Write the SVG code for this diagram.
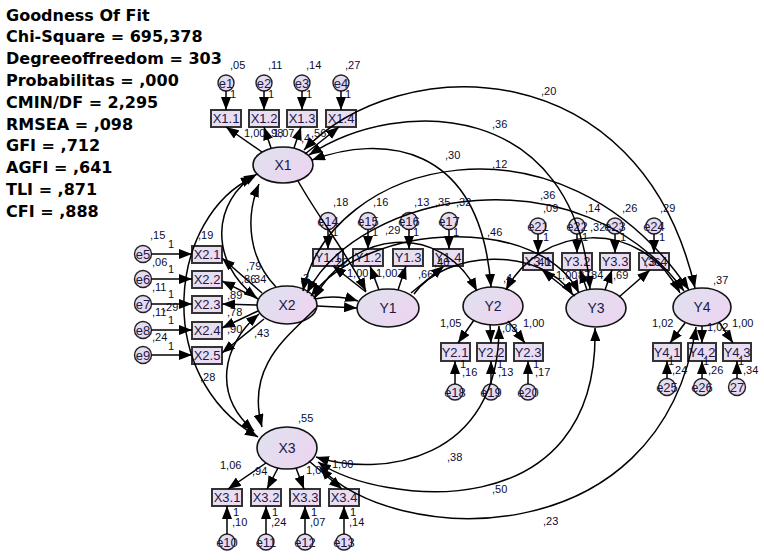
<svg xmlns="http://www.w3.org/2000/svg" width="764" height="560" viewBox="0 0 764 560">
<defs>
<linearGradient id="gl" x1="0" y1="0" x2="1" y2="0.6"><stop offset="0" stop-color="#dfe2ee"/><stop offset="1" stop-color="#ecd5f1"/></linearGradient>
<linearGradient id="gb" x1="0" y1="0" x2="1" y2="1"><stop offset="0" stop-color="#e4e2f0"/><stop offset="1" stop-color="#efd9f3"/></linearGradient>
<marker id="ah" markerUnits="userSpaceOnUse" markerWidth="13" markerHeight="10" refX="13" refY="5" orient="auto-start-reverse"><path d="M0,0 L13,5 L0,10 z" fill="#000"/></marker>
<style>
.lat{fill:url(#gl);stroke:#111;stroke-width:1.6}
.obs{fill:url(#gb);stroke:#333;stroke-width:2}
.err{fill:url(#gl);stroke:#222;stroke-width:1.4}
.ln{font-family:"Liberation Sans",Arial,sans-serif;font-size:14px;fill:#1a1a48;text-anchor:middle}
.bn{font-family:"Liberation Sans",Arial,sans-serif;font-size:13px;fill:#1a1a48;text-anchor:middle}
.en{font-family:"Liberation Sans",Arial,sans-serif;font-size:13px;fill:#1a1a48;text-anchor:middle}
.v{font-family:"Liberation Sans",Arial,sans-serif;font-size:11px;fill:#0b0b30}
.fit{font-family:"DejaVu Sans",sans-serif;font-size:16px;font-weight:bold;fill:#000}
#connectors path{fill:none;stroke:#000;stroke-width:1.5}
.a{marker-end:url(#ah)}
.b{marker-start:url(#ah);marker-end:url(#ah)}
</style>
</defs>
<rect width="764" height="560" fill="#fff"/>

<g id="fit">
<text class="fit" x="6" y="20.5">Goodness Of Fit</text>
<text class="fit" x="6" y="42.3">Chi-Square = 695,378</text>
<text class="fit" x="6" y="64.1">Degreeoffreedom = 303</text>
<text class="fit" x="6" y="85.9">Probabilitas = ,000</text>
<text class="fit" x="6" y="107.7">CMIN/DF = 2,295</text>
<text class="fit" x="6" y="129.5">RMSEA = ,098</text>
<text class="fit" x="6" y="151.3">GFI = ,712</text>
<text class="fit" x="6" y="173.1">AGFI = ,641</text>
<text class="fit" x="6" y="194.9">TLI = ,871</text>
<text class="fit" x="6" y="216.7">CFI = ,888</text>
</g>

<!-- latent variables -->
<g id="X1"><ellipse class="lat" cx="283" cy="165" rx="30" ry="18"/><text class="ln" x="283" y="170">X1</text></g>
<g id="X2"><ellipse class="lat" cx="287" cy="305" rx="30" ry="19"/><text class="ln" x="287" y="310">X2</text></g>
<g id="X3"><ellipse class="lat" cx="287" cy="448" rx="30" ry="21"/><text class="ln" x="287" y="453">X3</text></g>
<g id="Y1"><ellipse class="lat" cx="388" cy="308" rx="31" ry="19"/><text class="ln" x="388" y="313">Y1</text></g>
<g id="Y2"><ellipse class="lat" cx="493" cy="306" rx="30" ry="19"/><text class="ln" x="493" y="311">Y2</text></g>
<g id="Y3"><ellipse class="lat" cx="596" cy="308" rx="30" ry="19"/><text class="ln" x="596" y="313">Y3</text></g>
<g id="Y4"><ellipse class="lat" cx="702" cy="307" rx="29" ry="19"/><text class="ln" x="702" y="312">Y4</text></g>

<!-- observed -->
<g id="X1_1"><rect class="obs" x="211" y="110" width="30" height="17"/><text class="bn" x="226" y="123">X1.1</text></g>
<g id="X1_2"><rect class="obs" x="249" y="110" width="30" height="17"/><text class="bn" x="264" y="123">X1.2</text></g>
<g id="X1_3"><rect class="obs" x="287" y="110" width="30" height="17"/><text class="bn" x="302" y="123">X1.3</text></g>
<g id="X1_4"><rect class="obs" x="326" y="110" width="30" height="17"/><text class="bn" x="341" y="123">X1.4</text></g>

<g id="X2_1"><rect class="obs" x="192" y="246" width="30" height="17"/><text class="bn" x="207" y="259">X2.1</text></g>
<g id="X2_2"><rect class="obs" x="192" y="271" width="30" height="17"/><text class="bn" x="207" y="284">X2.2</text></g>
<g id="X2_3"><rect class="obs" x="192" y="296" width="30" height="17"/><text class="bn" x="207" y="309">X2.3</text></g>
<g id="X2_4"><rect class="obs" x="192" y="322" width="30" height="17"/><text class="bn" x="207" y="335">X2.4</text></g>
<g id="X2_5"><rect class="obs" x="192" y="347" width="30" height="17"/><text class="bn" x="207" y="360">X2.5</text></g>

<g id="X3_1"><rect class="obs" x="212" y="489" width="30" height="17"/><text class="bn" x="227" y="502">X3.1</text></g>
<g id="X3_2"><rect class="obs" x="251" y="489" width="30" height="17"/><text class="bn" x="266" y="502">X3.2</text></g>
<g id="X3_3"><rect class="obs" x="290" y="489" width="30" height="17"/><text class="bn" x="305" y="502">X3.3</text></g>
<g id="X3_4"><rect class="obs" x="329" y="489" width="30" height="17"/><text class="bn" x="344" y="502">X3.4</text></g>

<g id="Y1_1"><rect class="obs" x="313" y="249" width="30" height="17"/><text class="bn" x="328" y="262">Y1.1</text></g>
<g id="Y1_2"><rect class="obs" x="353" y="249" width="30" height="17"/><text class="bn" x="368" y="262">Y1.2</text></g>
<g id="Y1_3"><rect class="obs" x="393" y="249" width="30" height="17"/><text class="bn" x="408" y="262">Y1.3</text></g>
<g id="Y1_4"><rect class="obs" x="433" y="249" width="30" height="17"/><text class="bn" x="448" y="262">Y1.4</text></g>

<g id="Y2_1"><rect class="obs" x="441" y="343" width="29" height="18"/><text class="bn" x="455" y="357">Y2.1</text></g>
<g id="Y2_2"><rect class="obs" x="477" y="343" width="29" height="18"/><text class="bn" x="491" y="357">Y2.2</text></g>
<g id="Y2_3"><rect class="obs" x="514" y="343" width="29" height="18"/><text class="bn" x="528" y="357">Y2.3</text></g>

<g id="Y3_1"><rect class="obs" x="523" y="253" width="30" height="17"/><text class="bn" x="538" y="266">Y3.1</text></g>
<g id="Y3_2"><rect class="obs" x="562" y="253" width="30" height="17"/><text class="bn" x="577" y="266">Y3.2</text></g>
<g id="Y3_3"><rect class="obs" x="600" y="253" width="30" height="17"/><text class="bn" x="615" y="266">Y3.3</text></g>
<g id="Y3_4"><rect class="obs" x="639" y="253" width="30" height="17"/><text class="bn" x="654" y="266">Y3.4</text></g>

<g id="Y4_1"><rect class="obs" x="653" y="343" width="28" height="18"/><text class="bn" x="667" y="357">Y4.1</text></g>
<g id="Y4_2"><rect class="obs" x="688" y="343" width="28" height="18"/><text class="bn" x="702" y="357">Y4.2</text></g>
<g id="Y4_3"><rect class="obs" x="723" y="343" width="28" height="18"/><text class="bn" x="737" y="357">Y4.3</text></g>

<!-- errors -->
<g id="e1"><circle class="err" cx="226" cy="83" r="8"/><text class="en" x="226" y="88">e1</text></g>
<g id="e2"><circle class="err" cx="264" cy="83" r="8"/><text class="en" x="264" y="88">e2</text></g>
<g id="e3"><circle class="err" cx="302" cy="83" r="8"/><text class="en" x="302" y="88">e3</text></g>
<g id="e4"><circle class="err" cx="341" cy="83" r="8"/><text class="en" x="341" y="88">e4</text></g>
<g id="e5"><circle class="err" cx="143" cy="254" r="8.5"/><text class="en" x="143" y="259">e5</text></g>
<g id="e6"><circle class="err" cx="143" cy="279" r="8.5"/><text class="en" x="143" y="284">e6</text></g>
<g id="e7"><circle class="err" cx="143" cy="304" r="8.5"/><text class="en" x="143" y="309">e7</text></g>
<g id="e8"><circle class="err" cx="143" cy="330" r="8.5"/><text class="en" x="143" y="335">e8</text></g>
<g id="e9"><circle class="err" cx="143" cy="355" r="8.5"/><text class="en" x="143" y="360">e9</text></g>
<g id="e10"><circle class="err" cx="227" cy="542" r="8"/><text class="en" x="227" y="547">e10</text></g>
<g id="e11"><circle class="err" cx="266" cy="542" r="8"/><text class="en" x="266" y="547">e11</text></g>
<g id="e12"><circle class="err" cx="305" cy="542" r="8"/><text class="en" x="305" y="547">e12</text></g>
<g id="e13"><circle class="err" cx="344" cy="542" r="8"/><text class="en" x="344" y="547">e13</text></g>
<g id="e14"><circle class="err" cx="328" cy="221" r="8.5"/><text class="en" x="328" y="226">e14</text></g>
<g id="e15"><circle class="err" cx="368" cy="221" r="8.5"/><text class="en" x="368" y="226">e15</text></g>
<g id="e16"><circle class="err" cx="409" cy="221" r="8.5"/><text class="en" x="409" y="226">e16</text></g>
<g id="e17"><circle class="err" cx="449" cy="221" r="8.5"/><text class="en" x="449" y="226">e17</text></g>
<g id="e18"><circle class="err" cx="455" cy="392" r="8"/><text class="en" x="455" y="397">e18</text></g>
<g id="e19"><circle class="err" cx="491" cy="392" r="8"/><text class="en" x="491" y="397">e19</text></g>
<g id="e20"><circle class="err" cx="528" cy="392" r="8"/><text class="en" x="528" y="397">e20</text></g>
<g id="e21"><circle class="err" cx="538" cy="226" r="8"/><text class="en" x="538" y="231">e21</text></g>
<g id="e22"><circle class="err" cx="577" cy="226" r="8"/><text class="en" x="577" y="231">e22</text></g>
<g id="e23"><circle class="err" cx="615" cy="226" r="8"/><text class="en" x="615" y="231">e23</text></g>
<g id="e24"><circle class="err" cx="654" cy="226" r="8"/><text class="en" x="654" y="231">e24</text></g>
<g id="e25"><circle class="err" cx="667" cy="387" r="8.5"/><text class="en" x="667" y="392">e25</text></g>
<g id="e26"><circle class="err" cx="702" cy="387" r="8.5"/><text class="en" x="702" y="392">e26</text></g>
<g id="e27"><circle class="err" cx="737" cy="387" r="8.5"/><text class="en" x="737" y="392">27</text></g>

<g id="connectors">
<!-- error arrows -->
<path class="a" d="M226,91V110"/><path class="a" d="M264,91V110"/><path class="a" d="M302,91V110"/><path class="a" d="M341,91V110"/>
<path class="a" d="M151.5,254H192"/><path class="a" d="M151.5,279H192"/><path class="a" d="M151.5,304H192"/><path class="a" d="M151.5,330H192"/><path class="a" d="M151.5,355H192"/>
<path class="a" d="M227,534V506"/><path class="a" d="M266,534V506"/><path class="a" d="M305,534V506"/><path class="a" d="M344,534V506"/>
<path class="a" d="M328,229.5V249"/><path class="a" d="M368,229.5V249"/><path class="a" d="M409,229.5V249"/><path class="a" d="M449,229.5V249"/>
<path class="a" d="M455,384V361"/><path class="a" d="M491,384V361"/><path class="a" d="M528,384V361"/>
<path class="a" d="M538,234V253"/><path class="a" d="M577,234V253"/><path class="a" d="M615,234V253"/><path class="a" d="M654,234V253"/>
<path class="a" d="M667,378.5V361"/><path class="a" d="M702,378.5V361"/><path class="a" d="M737,378.5V361"/>
<!-- loadings -->
<path class="a" d="M262,152L226,127"/><path class="a" d="M271,148L264,127"/><path class="a" d="M294,148L301,127"/><path class="a" d="M305,154L339,127"/>
<path class="a" d="M262,293L222,258"/><path class="a" d="M258,299L222,281"/><path class="a" d="M257,305L222,304"/><path class="a" d="M258,311L222,328"/><path class="a" d="M264,319L222,353"/>
<path class="a" d="M266,463L228,489"/><path class="a" d="M278,468L267,489"/><path class="a" d="M296,468L304,489"/><path class="a" d="M309,461L342,489"/>
<path class="a" d="M366,292L333,266"/><path class="a" d="M379,290L370,266"/><path class="a" d="M398,290L406,266"/><path class="a" d="M411,293L444,266"/>
<path class="a" d="M474,320L458,343"/><path class="a" d="M490,325L491,343"/><path class="a" d="M508,321L525,343"/>
<path class="a" d="M575,296L542,270"/><path class="a" d="M587,290L580,270"/><path class="a" d="M605,290L612,270"/><path class="a" d="M619,297L650,270"/>
<path class="a" d="M685,323L670,343"/><path class="a" d="M702,326L702,343"/><path class="a" d="M719,322L733,343"/>
<!-- structural / covariances -->
<path class="a" d="M317,306L357,308"/>
<path class="a" d="M315,299Q336,294 358,301"/>
<path class="a" d="M298,181C320,220 345,250 366,291"/>
<path class="a" d="M276,287C250,260 244,220 259,184"/>
<path class="b" d="M254,177C170,215 150,375 258,437"/>
<path class="b" d="M257,174C212,200 208,262 257,298"/>
<path class="b" d="M259,314C222,345 212,395 254,431"/>
<path class="a" d="M316,308C290,335 245,365 262,427"/>
<path class="b" d="M304,150C400,50 640,50 695,288"/>
<path class="b" d="M309,155C400,95 575,100 590,289"/>
<path class="b" d="M312,160C380,135 480,140 491,287"/>
<path class="b" d="M303,291C330,160 560,100 689,290"/>
<path class="b" d="M307,293C360,190 580,150 684,291"/>
<path class="b" d="M311,296C370,220 540,215 579,293"/>
<path class="b" d="M314,299C350,230 440,220 477,291"/>
<path class="b" d="M506,290C540,225 640,215 680,293"/>
<path class="a" d="M414,294C445,250 540,245 573,295"/>
<path class="b" d="M316,457C380,478 500,462 499,326"/>
<path class="b" d="M318,462C380,505 600,530 595,328"/>
<path class="b" d="M320,467C390,545 660,560 696,327"/>
</g>

<g id="labels">
<text class="v" x="230" y="69">,05</text><text class="v" x="268" y="69">,11</text><text class="v" x="306" y="69">,14</text><text class="v" x="345" y="69">,27</text>
<text class="v" x="230" y="98">1</text><text class="v" x="268" y="98">1</text><text class="v" x="306" y="98">1</text><text class="v" x="345" y="98">1</text>
<text class="v" x="244" y="137">1,00</text><text class="v" x="268" y="137">,98</text><text class="v" x="273" y="137">1,07</text><text class="v" x="301" y="142">,4</text><text class="v" x="311" y="137">,56</text>

<text class="v" x="150" y="239">,15</text><text class="v" x="152" y="266">,06</text><text class="v" x="152" y="291">,11</text><text class="v" x="163" y="311">,29</text><text class="v" x="152" y="316">,11</text><text class="v" x="152" y="341">,24</text>
<text class="v" x="168" y="248">1</text><text class="v" x="168" y="273">1</text><text class="v" x="168" y="298">1</text><text class="v" x="168" y="324">1</text><text class="v" x="168" y="350">1</text>
<text class="v" x="198" y="239">,19</text><text class="v" x="246" y="270">,79</text><text class="v" x="241" y="283">,86</text><text class="v" x="251" y="283">,34</text><text class="v" x="227" y="299">,89</text><text class="v" x="227" y="316">,78</text><text class="v" x="227" y="333">,90</text><text class="v" x="254" y="337">,43</text><text class="v" x="200" y="381">,28</text>

<text class="v" x="298" y="422">,55</text><text class="v" x="220" y="469">1,06</text><text class="v" x="252" y="475">,94</text><text class="v" x="306" y="474">1,00</text><text class="v" x="332" y="468">1,00</text>
<text class="v" x="233" y="516">1</text><text class="v" x="272" y="516">1</text><text class="v" x="311" y="516">1</text><text class="v" x="350" y="516">1</text>
<text class="v" x="232" y="526">,10</text><text class="v" x="271" y="526">,24</text><text class="v" x="310" y="526">,07</text><text class="v" x="349" y="526">,14</text>

<text class="v" x="333" y="206">,18</text><text class="v" x="373" y="206">,16</text><text class="v" x="414" y="206">,13</text><text class="v" x="435" y="206">,35</text><text class="v" x="456" y="206">,32</text>
<text class="v" x="332" y="236">1</text><text class="v" x="372" y="236">1</text><text class="v" x="413" y="236">1</text><text class="v" x="453" y="236">1</text>
<text class="v" x="385" y="234">,29</text><text class="v" x="347" y="277">1,00</text><text class="v" x="376" y="277">1,007</text><text class="v" x="418" y="278">,66</text><text class="v" x="333" y="266">,22</text><text class="v" x="434" y="266">,40</text><text class="v" x="300" y="282">,3</text>

<text class="v" x="440" y="327">1,05</text><text class="v" x="502" y="332">,03</text><text class="v" x="523" y="327">1,00</text>
<text class="v" x="460" y="368">1</text><text class="v" x="497" y="368">1</text><text class="v" x="533" y="368">1</text>
<text class="v" x="462" y="376">,16</text><text class="v" x="498" y="376">,13</text><text class="v" x="535" y="376">,17</text>

<text class="v" x="540" y="199">,36</text><text class="v" x="543" y="212">,09</text><text class="v" x="585" y="212">,14</text><text class="v" x="622" y="212">,26</text><text class="v" x="660" y="212">,29</text><text class="v" x="590" y="231">,32</text>
<text class="v" x="543" y="241">1</text><text class="v" x="582" y="241">1</text><text class="v" x="620" y="241">1</text><text class="v" x="659" y="241">1</text>
<text class="v" x="487" y="236">,46</text><text class="v" x="503" y="282">,4</text><text class="v" x="556" y="279">1,00</text><text class="v" x="575" y="279">,87</text><text class="v" x="588" y="279">,84</text><text class="v" x="613" y="279">,69</text><text class="v" x="535" y="266">,40</text><text class="v" x="645" y="266">,36</text>

<text class="v" x="713" y="284">,37</text><text class="v" x="652" y="327">1,02</text><text class="v" x="707" y="331">1,02</text><text class="v" x="732" y="327">1,00</text>
<text class="v" x="668" y="365">1</text><text class="v" x="703" y="365">1</text><text class="v" x="738" y="365">1</text>
<text class="v" x="672" y="374">,24</text><text class="v" x="708" y="374">,26</text><text class="v" x="743" y="374">,34</text>

<text class="v" x="541" y="95">,20</text><text class="v" x="492" y="128">,36</text><text class="v" x="492" y="168">,12</text><text class="v" x="445" y="159">,30</text>
<text class="v" x="447" y="461">,38</text><text class="v" x="492" y="493">,50</text><text class="v" x="543" y="525">,23</text>
</g>
</svg>
